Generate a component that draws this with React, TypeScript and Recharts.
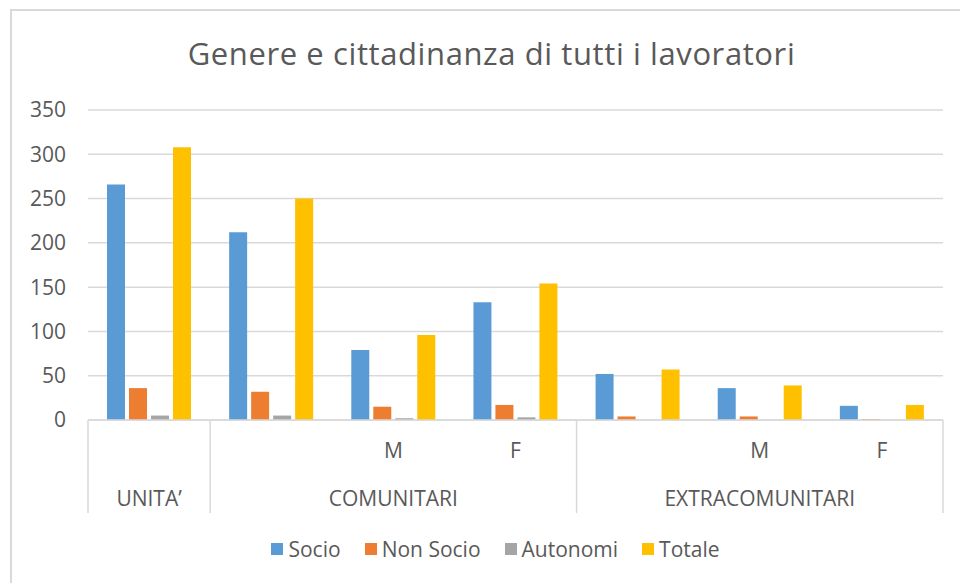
import React from 'react';
import { BarChart, Bar, XAxis, YAxis, CartesianGrid, Legend } from 'recharts';

const subLabels = ['', '', 'M', 'F', '', 'M', 'F'];
const groupLabels = ['UNITA’', 'COMUNITARI', 'EXTRACOMUNITARI'];
const groupSpans = [1, 3, 3];

const socio = [266, 212, 79, 133, 52, 36, 16];
const nonSocio = [36, 32, 15, 17, 4, 4, 1];
const autonomi = [5, 5, 2, 3, 0, 0, 0];
const totale = [308, 250, 96, 154, 57, 39, 17];

const yTicks = [0, 50, 100, 150, 200, 250, 300, 350];

const series = [
  { key: 'socio', name: 'Socio', color: '#5B9BD5' },
  { key: 'nonSocio', name: 'Non Socio', color: '#ED7D31' },
  { key: 'autonomi', name: 'Autonomi', color: '#A5A5A5' },
  { key: 'totale', name: 'Totale', color: '#FFC000' },
];

const data = subLabels.map((sub, i) => ({
  sub,
  socio: socio[i],
  nonSocio: nonSocio[i],
  autonomi: autonomi[i],
  totale: totale[i],
}));

// first index of every group, and the index whose tick sits in the group's middle
const groupStarts = groupSpans.map((_, g) => groupSpans.slice(0, g).reduce((a, b) => a + b, 0));
const groupCenters = groupStarts.map((s, g) => s + Math.floor(groupSpans[g] / 2));

const TEXT = '#595959';
const LINE = '#D9D9D9';
const FONT = "'Open Sans', sans-serif";

function GroupTick(props: any) {
  const { x, y, payload } = props;
  const i: number = payload.index;
  const half: number = payload.offset || 61;
  const g = groupCenters.indexOf(i);
  return (
    <g>
      {subLabels[i] && (
        <text x={x} y={y + 38} textAnchor="middle" fill={TEXT} fontSize={21} fontFamily={FONT}>
          {subLabels[i]}
        </text>
      )}
      {g >= 0 && (
        <text x={x} y={y + 86} textAnchor="middle" fill={TEXT} fontSize={21} fontFamily={FONT}>
          {groupLabels[g]}
        </text>
      )}
      {groupStarts.includes(i) && (
        <line x1={x - half} x2={x - half} y1={y} y2={y + 93} stroke={LINE} strokeWidth={1.5} />
      )}
      {i === subLabels.length - 1 && (
        <line x1={x + half} x2={x + half} y1={y} y2={y + 93} stroke={LINE} strokeWidth={1.5} />
      )}
    </g>
  );
}

function LegendContent() {
  return (
    <div
      style={{
        display: 'flex',
        justifyContent: 'center',
        alignItems: 'center',
        height: 30,
        paddingLeft: 48,
        fontFamily: FONT,
        fontSize: 21,
        color: TEXT,
      }}
    >
      {series.map((s, i) => (
        <span key={s.key} style={{ display: 'flex', alignItems: 'center', marginLeft: i ? 24 : 0 }}>
          <span style={{ width: 12, height: 12, background: s.color, marginRight: 5 }} />
          {s.name}
        </span>
      ))}
    </div>
  );
}

export default function App() {
  return (
    <div
      style={{
        position: 'absolute',
        left: 0,
        top: 0,
        width: 960,
        height: 583,
        background: '#fff',
        overflow: 'hidden',
        fontFamily: FONT,
      }}
    >
      <div
        style={{
          position: 'absolute',
          left: 10,
          top: 9,
          width: 960,
          height: 583,
          borderTop: `2px solid ${LINE}`,
          borderLeft: `2px solid ${LINE}`,
        }}
      />
      <div
        style={{
          position: 'absolute',
          left: 0,
          top: 38,
          width: 983,
          textAlign: 'center',
          fontSize: 31,
          lineHeight: '31px',
          letterSpacing: 0.6,
          color: TEXT,
        }}
      >
        Genere e cittadinanza di tutti i lavoratori
      </div>
      <BarChart
        width={960}
        height={583}
        data={data}
        margin={{ top: 110, right: 17, bottom: 19, left: 0 }}
        barCategoryGap={19}
        barGap={4}
      >
        <CartesianGrid vertical={false} stroke={LINE} strokeWidth={1.5} />
        <XAxis
          dataKey="sub"
          height={114}
          axisLine={{ stroke: LINE, strokeWidth: 1.5 }}
          tickLine={false}
          tickSize={0}
          tickMargin={0}
          interval={0}
          tick={<GroupTick />}
        />
        <YAxis
          width={88}
          domain={[0, 350]}
          ticks={yTicks}
          axisLine={false}
          tickLine={false}
          tickMargin={16}
          tick={{ fill: TEXT, fontSize: 21, fontFamily: FONT }}
        />
        <Legend verticalAlign="bottom" content={<LegendContent />} />
        {series.map((s) => (
          <Bar key={s.key} dataKey={s.key} name={s.name} fill={s.color} isAnimationActive={false} />
        ))}
      </BarChart>
    </div>
  );
}
